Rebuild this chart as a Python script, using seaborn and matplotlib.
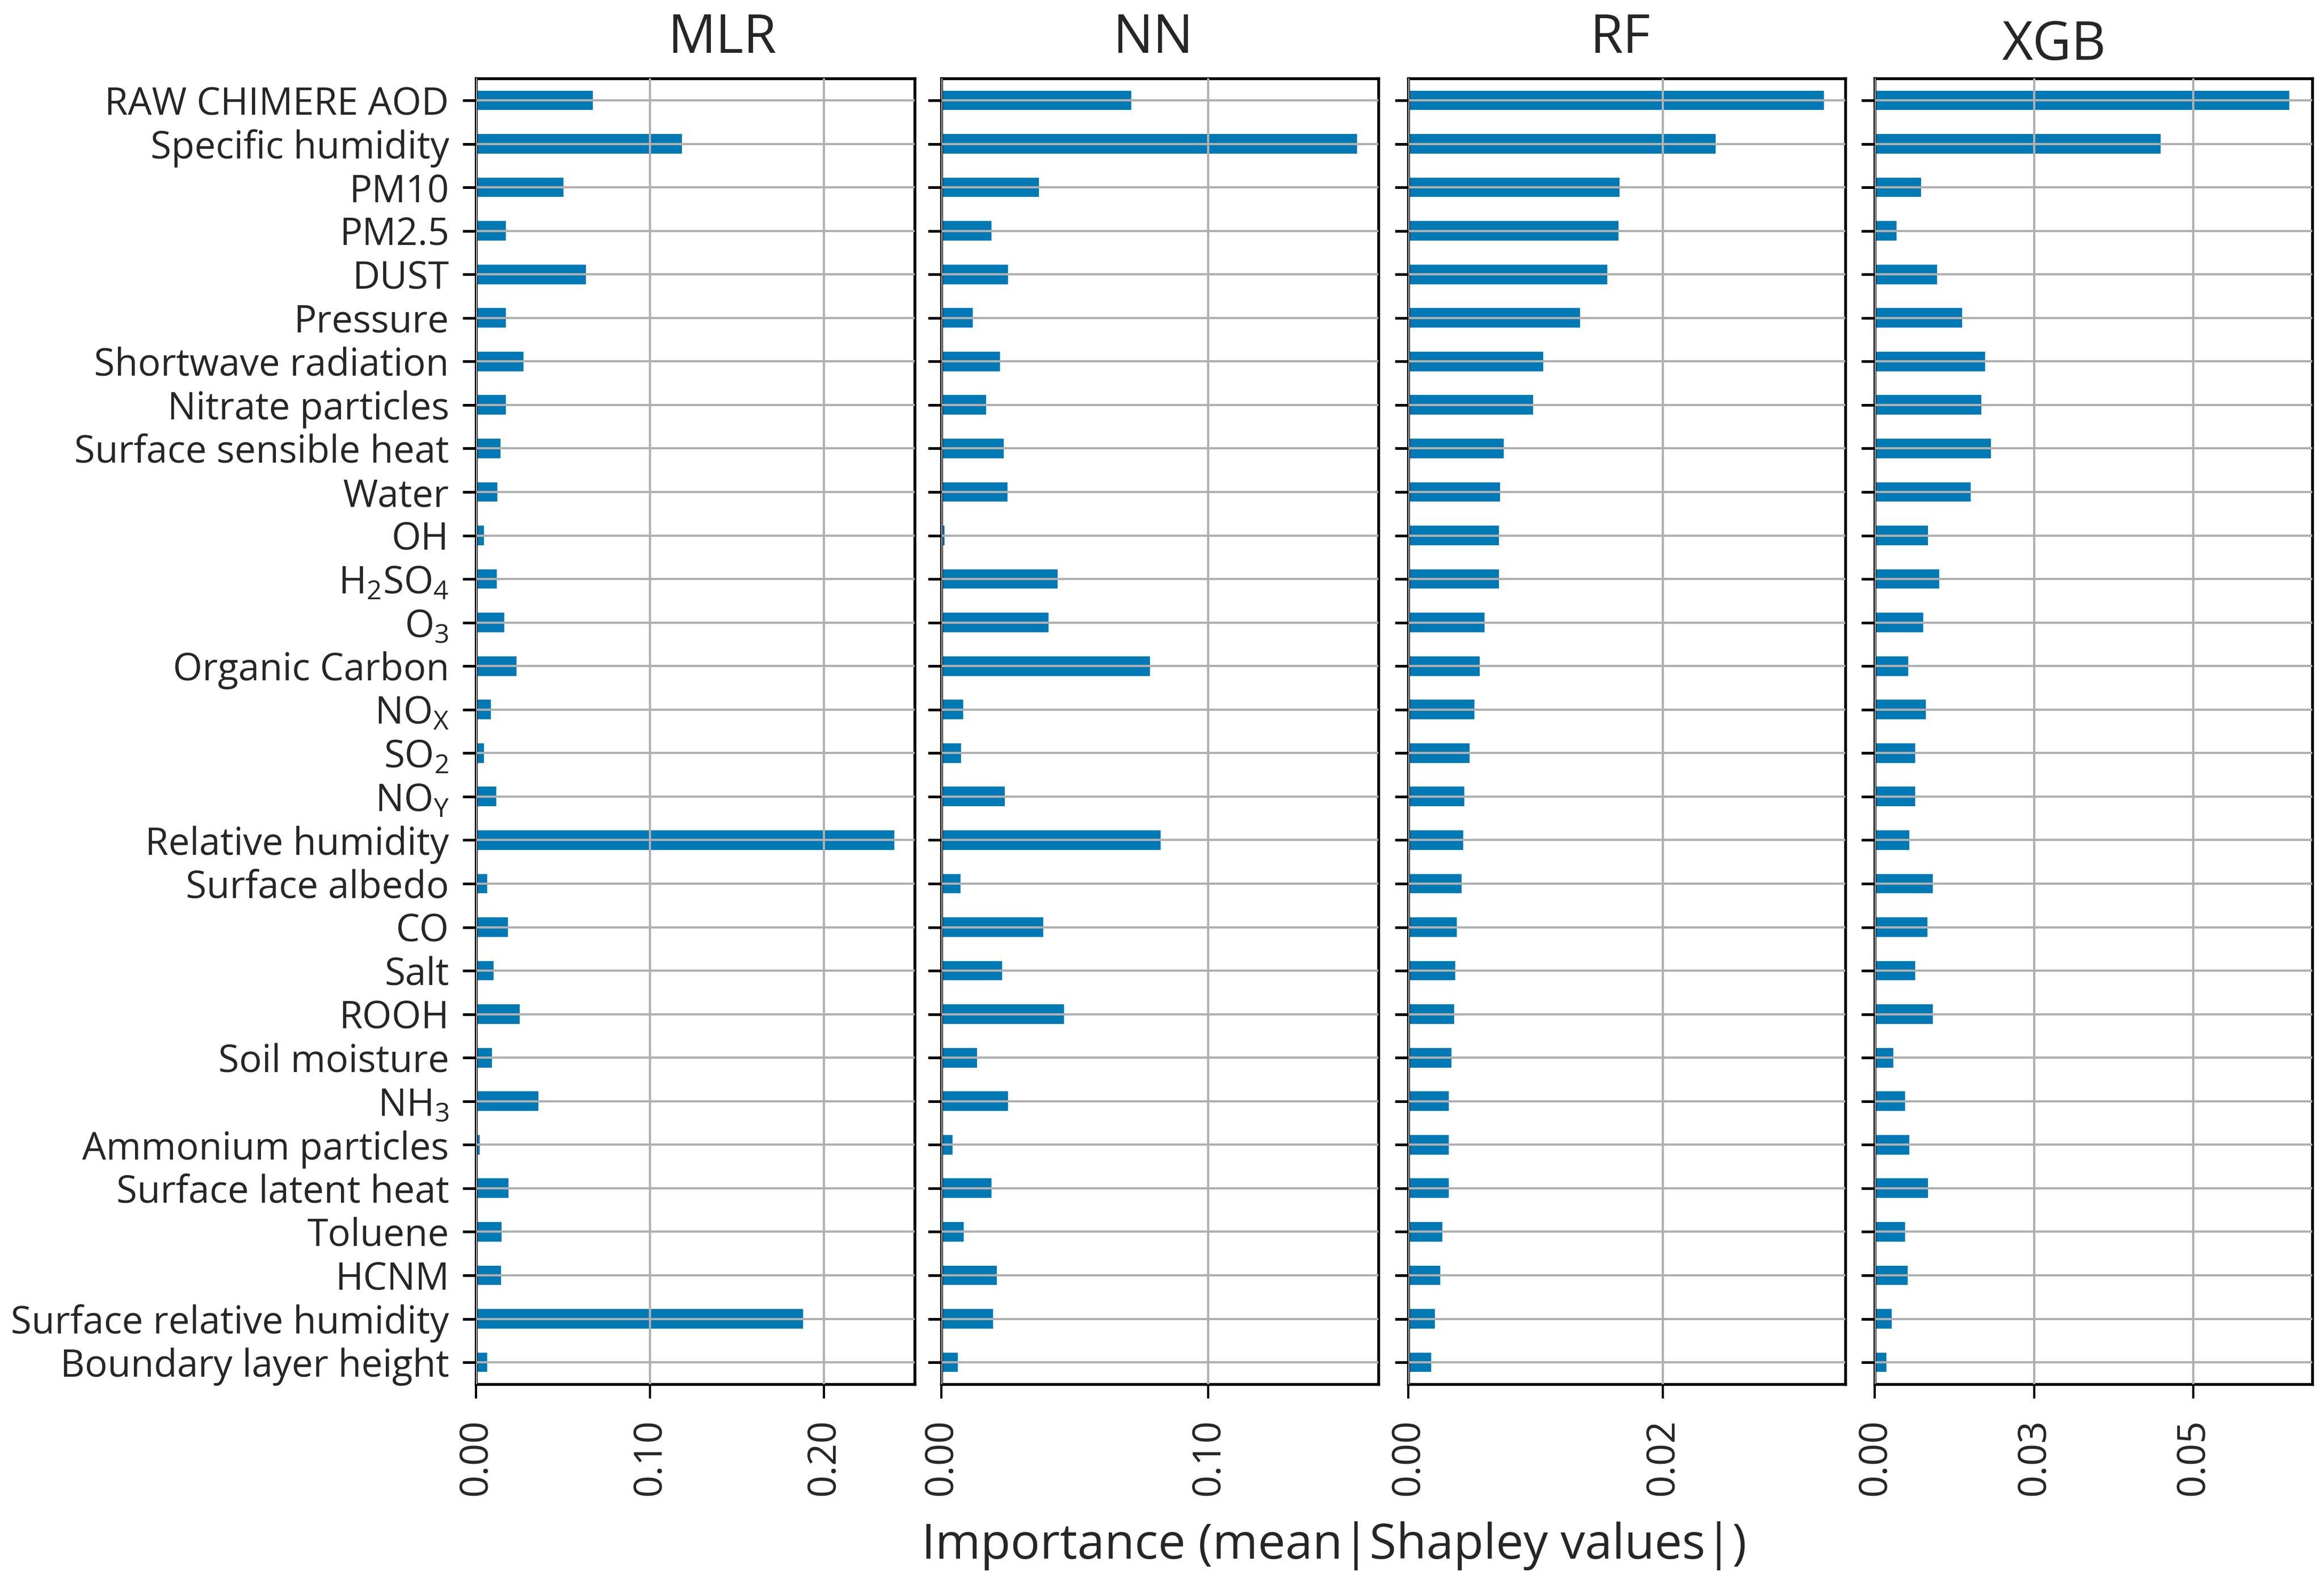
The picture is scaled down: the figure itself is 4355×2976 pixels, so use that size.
import matplotlib
matplotlib.use("Agg")
import matplotlib.pyplot as plt
import seaborn as sns
import pandas as pd
import numpy as np

features = [
    "RAW CHIMERE AOD", "Specific humidity", "PM10", "PM2.5", "DUST", "Pressure",
    "Shortwave radiation", "Nitrate particles", "Surface sensible heat", "Water",
    "OH", "H$_2$SO$_4$", "O$_3$", "Organic Carbon", "NO$_X$", "SO$_2$", "NO$_Y$",
    "Relative humidity", "Surface albedo", "CO", "Salt", "ROOH", "Soil moisture",
    "NH$_3$", "Ammonium particles", "Surface latent heat", "Toluene", "HCNM",
    "Surface relative humidity", "Boundary layer height",
]

mlr = [0.068, 0.119, 0.051, 0.018, 0.064, 0.018, 0.028, 0.018, 0.015, 0.013,
       0.0055, 0.0128, 0.017, 0.024, 0.0093, 0.0055, 0.0125, 0.241, 0.0072, 0.019,
       0.011, 0.0258, 0.010, 0.0365, 0.0028, 0.0196, 0.0155, 0.0152, 0.1888, 0.0072]
nn = [0.0715, 0.156, 0.0371, 0.0192, 0.0255, 0.0123, 0.0225, 0.0172, 0.0238, 0.0252,
      0.0017, 0.044, 0.0407, 0.0785, 0.0086, 0.0079, 0.0242, 0.0825, 0.0076, 0.0387,
      0.0232, 0.0464, 0.0139, 0.0255, 0.0046, 0.0192, 0.0089, 0.0212, 0.0199, 0.0066]
rf = [0.0327, 0.0242, 0.0167, 0.0166, 0.0157, 0.0136, 0.0107, 0.0099, 0.0076, 0.0073,
      0.0072, 0.0072, 0.0061, 0.0057, 0.0053, 0.0049, 0.0045, 0.0044, 0.0043, 0.0039,
      0.0038, 0.0037, 0.0035, 0.0033, 0.0033, 0.0033, 0.0028, 0.0026, 0.0022, 0.0019]
xgb = [0.0653, 0.0451, 0.0074, 0.0036, 0.0099, 0.0139, 0.0175, 0.0169, 0.0184, 0.0152,
       0.0085, 0.0103, 0.0078, 0.0054, 0.0082, 0.0065, 0.0065, 0.0056, 0.0093, 0.0084,
       0.0065, 0.0093, 0.0031, 0.0049, 0.0056, 0.0085, 0.0049, 0.0053, 0.0028, 0.0020]

models = ["MLR", "NN", "RF", "XGB"]
values = {"MLR": mlr, "NN": nn, "RF": rf, "XGB": xgb}
xlims = {"MLR": 0.252, "NN": 0.1636, "RF": 0.0343, "XGB": 0.0687}
xticks = {"MLR": [0.0, 0.1, 0.2], "NN": [0.0, 0.1], "RF": [0.0, 0.02], "XGB": [0.0, 0.025, 0.05]}

sns.set_theme(style="white")
plt.rcParams['font.family'] = ['Open Sans', 'DejaVu Sans']
plt.rcParams['mathtext.default'] = 'regular'

df = pd.concat([pd.DataFrame({"feature": features, "value": values[m], "model": m}) for m in models])

W, H = 4355, 2976
fig = plt.figure(figsize=(W / 300, H / 300), dpi=300)
lefts = [321, 635, 950, 1265]
rights = [617, 930, 1245, 1560]
title_x = [0.561, 0.485, 0.485, 0.41]
top_f = 1 - 53 / 1071.6
bot_f = 1 - 934 / 1071.6
color = "#0079b5"

for i, m in enumerate(models):
    l = lefts[i] / 1568
    w = (rights[i] - lefts[i]) / 1568
    ax = fig.add_axes([l, bot_f, w, top_f - bot_f])
    sub = df[df.model == m]
    sns.barplot(data=sub, x="value", y="feature", order=features, color=color,
                width=0.5, ax=ax, saturation=1)
    ax.set_xlim(0, xlims[m])
    ax.set_ylim(len(features) - 0.5, -0.5)
    ax.set_xticks(xticks[m])
    ax.set_xticklabels(["%.2f" % t for t in xticks[m]], rotation=90, fontsize=17.5)
    ax.set_xlabel("")
    ax.set_ylabel("")
    if i == 0:
        ax.tick_params(axis="y", labelsize=17)
    else:
        ax.set_yticklabels([])
    ax.set_axisbelow(False)
    ax.grid(True, color="#b0b0b0", linewidth=1.0)
    ax.tick_params(axis="y", direction="out", length=6, width=1.2, pad=6, left=True, color="black")
    ax.tick_params(axis="x", direction="out", length=6.5, width=1.0, pad=9, bottom=True, color="black")
    for s in ax.spines.values():
        s.set_color("black")
        s.set_linewidth(1.3)
    t = ax.set_title(m, fontsize=24, pad=(8.5 if m == "XGB" else 11.5))
    t.set_x(title_x[i])

fig.text(900 / 1568, 1 - 1043 / 1071.6, "Importance (mean|Shapley values|)",
         ha="center", va="center", fontsize=22)

fig.savefig("out.png", dpi=300)
